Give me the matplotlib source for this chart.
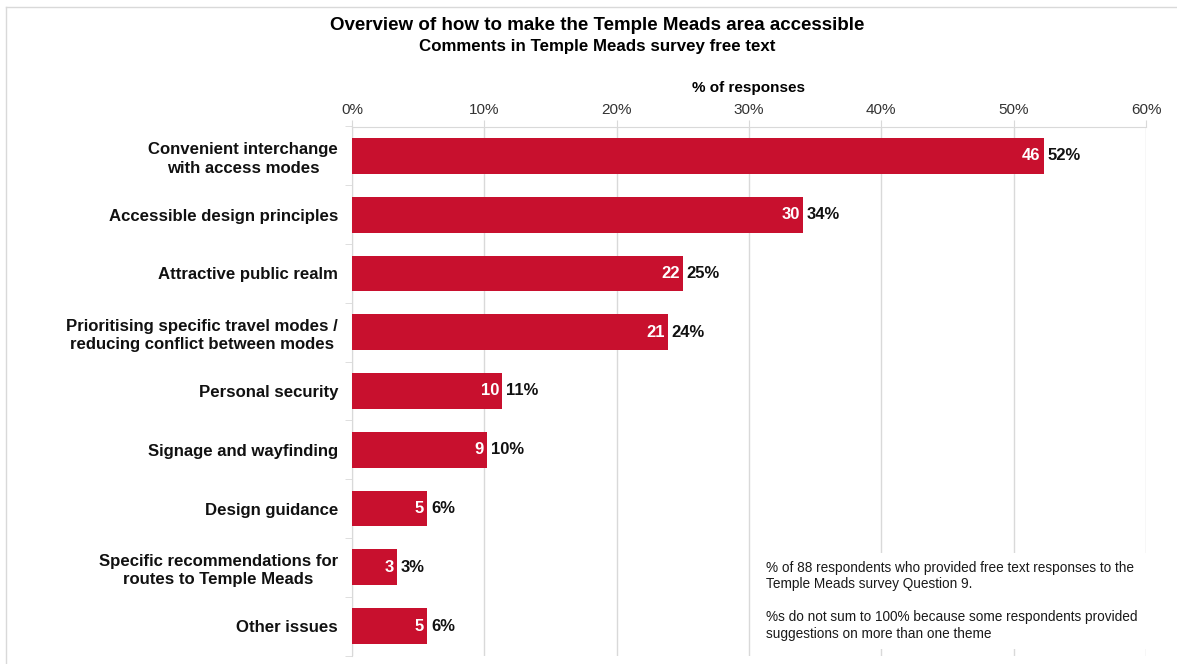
import matplotlib
matplotlib.use("Agg")
import matplotlib.pyplot as plt
from matplotlib.lines import Line2D
import numpy as np

plt.rcParams['font.family'] = ['Liberation Sans', 'DejaVu Sans']

categories = [
    "Convenient interchange\nwith access modes",
    "Accessible design principles",
    "Attractive public realm",
    "Prioritising specific travel modes /\nreducing conflict between modes",
    "Personal security",
    "Signage and wayfinding",
    "Design guidance",
    "Specific recommendations for\nroutes to Temple Meads",
    "Other issues",
]
counts = [46, 30, 22, 21, 10, 9, 5, 3, 5]
total_respondents = 88
x_ticks = [0, 10, 20, 30, 40, 50, 60]

pct = [c / total_respondents * 100 for c in counts]

BAR = "#C8102E"
GRID = "#d9d9d9"

fig = plt.figure(figsize=(11.77, 6.64), dpi=100)
W, H = 1177, 664
ax = fig.add_axes([352 / W, 1 - 655.5 / H, (1146 - 352) / W, (655.5 - 126.5) / H])

y = np.arange(len(categories))
ax.barh(y, pct, height=0.61, color=BAR, zorder=3)
ax.set_ylim(len(categories) - 0.5, -0.5)
ax.set_xlim(0, 60)

ax.xaxis.tick_top()
ax.set_xticks(x_ticks)
ax.set_xticklabels([f"{t}%" for t in x_ticks], fontsize=11, color="#333333")
ax.tick_params(axis="x", length=5, color=GRID, pad=2)
ax.grid(axis="x", color=GRID, linewidth=1, zorder=0)

ax.set_yticks(y)
ax.set_yticklabels(categories, fontsize=12.1, fontweight="bold", color="#111111",
                   multialignment="center", linespacing=1.3)
ax.tick_params(axis="y", which="major", length=0, pad=10)
ax.set_yticks(np.arange(-0.5, len(categories) + 0.5, 1), minor=True)
ax.tick_params(axis="y", which="minor", length=5, color=GRID)

for side in ["right", "bottom"]:
    ax.spines[side].set_visible(False)
ax.spines["top"].set_color(GRID)
ax.spines["left"].set_color(GRID)

ax.set_xlabel("% of responses", fontsize=11, fontweight="bold", labelpad=8)
ax.xaxis.set_label_position("top")

for yi, c, p in zip(y, counts, pct):
    ax.text(p - 0.25, yi, str(c), ha="right", va="center", color="white",
            fontsize=12, fontweight="bold", zorder=4)
    ax.text(p + 0.3, yi, f"{round(p):.0f}%", ha="left", va="center",
            color="#111111", fontsize=12, fontweight="bold", zorder=4)

# footnote box over the gridlines
note = ("% of 88 respondents who provided free text responses to the\n"
        "Temple Meads survey Question 9.\n\n"
        "%s do not sum to 100% because some respondents provided\n"
        "suggestions on more than one theme")
fig.text(766 / W, 1 - 561 / H, note, ha="left", va="top", fontsize=9.8,
         color="#1a1a1a", linespacing=1.22,
         bbox=dict(facecolor="white", edgecolor="none", pad=6), zorder=5)

fig.text(597 / W, 1 - 25 / H, "Overview of how to make the Temple Meads area accessible",
         ha="center", va="center", fontsize=13.5, fontweight="bold")
fig.text(597 / W, 1 - 46 / H, "Comments in Temple Meads survey free text",
         ha="center", va="center", fontsize=12.2, fontweight="bold")

# outer frame
fig.add_artist(Line2D([6 / W, 1], [1 - 7 / H, 1 - 7 / H], color=GRID, lw=1))
fig.add_artist(Line2D([6 / W, 6 / W], [0, 1 - 7 / H], color=GRID, lw=1))

fig.savefig("out.png", dpi=100)
